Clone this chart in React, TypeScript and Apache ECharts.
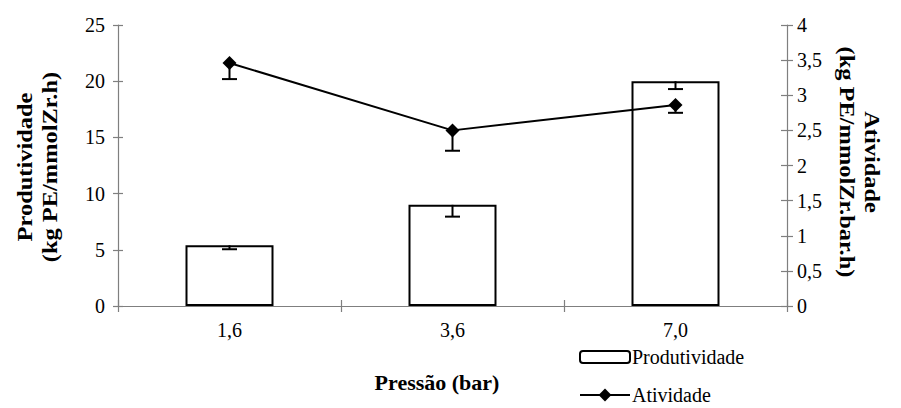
import React, { useEffect, useRef } from "react";
import * as echarts from "echarts";

const categories = ["1,6", "3,6", "7,0"];
const prodValues = [5.4, 9.0, 20.0];
const prodErr = [0.35, 1.05, 0.7];
const ativValues = [3.46, 2.5, 2.86];
const ativErr = [0.23, 0.29, 0.11];
const leftTicks = [0, 5, 10, 15, 20, 25];
const rightTicks = [0, 0.5, 1, 1.5, 2, 2.5, 3, 3.5, 4];

const FONT = "Liberation Serif";

export default function App() {
  const ref = useRef<HTMLDivElement>(null);
  useEffect(() => {
    if (!ref.current) return;
    const chart = echarts.init(ref.current, undefined, { renderer: "svg" });
    const axisLine = { show: true, lineStyle: { color: "#7f7f7f", width: 1.2 } };
    const tickStyle = { color: "#7f7f7f", width: 1.2 };
    const errRender = (params: any, api: any) => {
      const x = api.value(0);
      const y = api.value(1);
      const lo = api.value(2);
      const p1 = api.coord([x, y]);
      const p2 = api.coord([x, lo]);
      const style = { stroke: "#000", lineWidth: 2 };
      return {
        type: "group",
        children: [
          { type: "line", shape: { x1: p1[0], y1: p1[1], x2: p2[0], y2: p2[1] }, style },
          { type: "line", shape: { x1: p2[0] - 7.5, y1: p2[1], x2: p2[0] + 7.5, y2: p2[1] }, style },
        ],
      };
    };
    const yBase = (min: number, max: number, interval: number, position: string) => ({
      type: "value",
      min,
      max,
      interval,
      position,
      splitLine: { show: false },
    });
    const legendBase = {
      orient: "horizontal",
      left: 574,
      itemWidth: 50,
      itemHeight: 12,
      textStyle: { fontFamily: FONT, fontSize: 20, color: "#000", padding: [0, 0, 0, -3] },
    };
    const titleStyle = {
      fontFamily: FONT,
      fontSize: 22,
      fontWeight: "bold",
      fill: "#000",
      align: "center",
      verticalAlign: "middle",
      lineHeight: 25,
    };
    chart.setOption({
      animation: false,
      textStyle: { fontFamily: FONT },
      grid: { left: 118, right: 114, top: 25, bottom: 102, containLabel: false },
      legend: [
        { ...legendBase, top: 342, data: ["Produtividade"] },
        { ...legendBase, top: 380, itemHeight: 16, data: ["Atividade"] },
      ],
      xAxis: [
        {
          type: "category",
          data: categories,
          boundaryGap: true,
          axisLine,
          axisTick: { show: true, length: 6, alignWithLabel: false, lineStyle: tickStyle },
          axisLabel: { fontFamily: FONT, fontSize: 20, color: "#000", margin: 14 },
        },
        {
          type: "category",
          data: categories,
          position: "bottom",
          boundaryGap: true,
          axisLine: { show: false },
          axisTick: { show: true, inside: true, length: 6, alignWithLabel: false, lineStyle: tickStyle },
          axisLabel: { show: false },
        },
      ],
      yAxis: [
        {
          ...yBase(0, 25, 5, "left"),
          axisLine,
          axisTick: { show: true, length: 5, lineStyle: tickStyle },
          axisLabel: {
            fontFamily: FONT,
            fontSize: 20,
            color: "#000",
            margin: 13,
            formatter: (v: number) => (leftTicks.includes(v) ? String(v) : ""),
          },
        },
        {
          ...yBase(0, 4, 0.5, "right"),
          axisLine,
          axisTick: { show: true, length: 6, lineStyle: tickStyle },
          axisLabel: {
            fontFamily: FONT,
            fontSize: 20,
            color: "#000",
            margin: 10,
            formatter: (v: number) =>
              rightTicks.includes(v) ? String(v).replace(".", ",") : "",
          },
        },
        {
          ...yBase(0, 25, 5, "left"),
          axisLine: { show: false },
          axisTick: { show: true, inside: true, length: 5, lineStyle: tickStyle },
          axisLabel: { show: false },
        },
        {
          ...yBase(0, 4, 0.5, "right"),
          axisLine: { show: false },
          axisTick: { show: true, inside: true, length: 6, lineStyle: tickStyle },
          axisLabel: { show: false },
        },
      ],
      graphic: [
        {
          type: "text",
          x: 37,
          y: 167,
          rotation: Math.PI / 2,
          scaleX: 1.11,
          style: { ...titleStyle, text: "Produtividade\n(kg PE/mmolZr.h)" },
        },
        {
          type: "text",
          x: 860,
          y: 162,
          rotation: -Math.PI / 2,
          scaleX: 1.11,
          style: { ...titleStyle, text: "Atividade\n(kg PE/mmolZr.bar.h)" },
        },
        {
          type: "text",
          x: 437,
          y: 382,
          style: { ...titleStyle, text: "Pressão (bar)" },
        },
      ],
      series: [
        {
          name: "Produtividade",
          type: "bar",
          xAxisIndex: 0,
          yAxisIndex: 0,
          barWidth: 88,
          data: prodValues,
          itemStyle: { color: "#fff", borderColor: "#000", borderWidth: 2 },
        },
        {
          name: "prodErr",
          type: "custom",
          xAxisIndex: 0,
          yAxisIndex: 0,
          renderItem: errRender,
          data: prodValues.map((v, i) => [i, v, v - prodErr[i]]),
          z: 3,
        },
        {
          name: "ativErr",
          type: "custom",
          xAxisIndex: 0,
          yAxisIndex: 1,
          renderItem: errRender,
          data: ativValues.map((v, i) => [i, v, v - ativErr[i]]),
          z: 3,
        },
        {
          name: "Atividade",
          type: "line",
          xAxisIndex: 0,
          yAxisIndex: 1,
          data: ativValues,
          symbol: "diamond",
          symbolSize: 14,
          lineStyle: { color: "#000", width: 2 },
          itemStyle: { color: "#000" },
          z: 4,
        },
      ],
    });
    return () => chart.dispose();
  }, []);
  return (
    <div
      ref={ref}
      style={{ position: "fixed", left: 0, top: 0, width: 901, height: 408, background: "#fff" }}
    />
  );
}
